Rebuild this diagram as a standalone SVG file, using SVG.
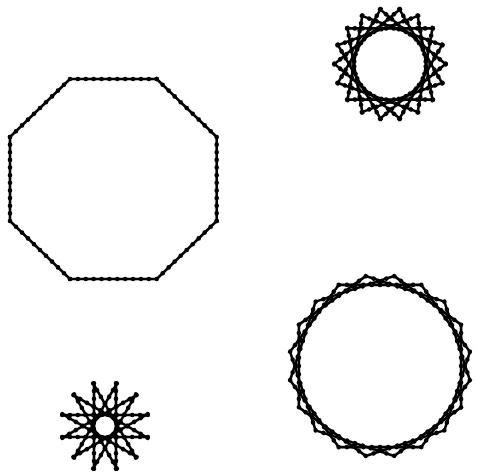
<svg xmlns="http://www.w3.org/2000/svg" xmlns:xlink="http://www.w3.org/1999/xlink" width="477" height="473" viewBox="0 0 477 473">
<style>
.ln{stroke:#000;stroke-width:2.6;fill:none;stroke-linecap:round;stroke-linejoin:round}
.bd{stroke:#000;stroke-width:4.6;fill:none;stroke-linecap:round;stroke-dasharray:0 1}
</style>
<defs>
<g id="c12"><line class="ln" x1="11" y1="-42.8" x2="11" y2="42.8"/><line class="bd" pathLength="11" x1="11" y1="-42.8" x2="11" y2="42.8"/></g>
<g id="c20"><line class="ln" x1="-41.3" y1="-81.1" x2="41.3" y2="-81.1"/><line class="bd" pathLength="10" x1="-41.3" y1="-81.1" x2="41.3" y2="-81.1"/></g>
<g id="c18"><line class="ln" x1="-42.9" y1="-35.6" x2="42.9" y2="-35.6"/><line class="bd" pathLength="11" x1="-42.9" y1="-35.6" x2="42.9" y2="-35.6"/></g>
</defs>
<rect width="477" height="473" fill="#fff"/>
<g id="octagon">
<polygon class="ln" points="70,79 156.7,79 216.7,137 216.7,221 156.7,279 70,279 10,221 10,137"/>
<line class="bd" pathLength="11" x1="70" y1="79" x2="156.7" y2="79"/>
<line class="bd" pathLength="10" x1="156.7" y1="79" x2="216.7" y2="137"/>
<line class="bd" pathLength="11" x1="216.7" y1="137" x2="216.7" y2="221"/>
<line class="bd" pathLength="10" x1="216.7" y1="221" x2="156.7" y2="279"/>
<line class="bd" pathLength="11" x1="156.7" y1="279" x2="70" y2="279"/>
<line class="bd" pathLength="10" x1="70" y1="279" x2="10" y2="221"/>
<line class="bd" pathLength="11" x1="10" y1="221" x2="10" y2="137"/>
<line class="bd" pathLength="10" x1="10" y1="137" x2="70" y2="79"/>
</g>
<g id="star18" transform="translate(390,64)">
<use xlink:href="#c18"/><use xlink:href="#c18" transform="rotate(20)"/><use xlink:href="#c18" transform="rotate(40)"/><use xlink:href="#c18" transform="rotate(60)"/><use xlink:href="#c18" transform="rotate(80)"/><use xlink:href="#c18" transform="rotate(100)"/><use xlink:href="#c18" transform="rotate(120)"/><use xlink:href="#c18" transform="rotate(140)"/><use xlink:href="#c18" transform="rotate(160)"/><use xlink:href="#c18" transform="rotate(180)"/><use xlink:href="#c18" transform="rotate(200)"/><use xlink:href="#c18" transform="rotate(220)"/><use xlink:href="#c18" transform="rotate(240)"/><use xlink:href="#c18" transform="rotate(260)"/><use xlink:href="#c18" transform="rotate(280)"/><use xlink:href="#c18" transform="rotate(300)"/><use xlink:href="#c18" transform="rotate(320)"/><use xlink:href="#c18" transform="rotate(340)"/>
</g>
<g id="star20" transform="translate(380,366)">
<use xlink:href="#c20"/><use xlink:href="#c20" transform="rotate(18)"/><use xlink:href="#c20" transform="rotate(36)"/><use xlink:href="#c20" transform="rotate(54)"/><use xlink:href="#c20" transform="rotate(72)"/><use xlink:href="#c20" transform="rotate(90)"/><use xlink:href="#c20" transform="rotate(108)"/><use xlink:href="#c20" transform="rotate(126)"/><use xlink:href="#c20" transform="rotate(144)"/><use xlink:href="#c20" transform="rotate(162)"/><use xlink:href="#c20" transform="rotate(180)"/><use xlink:href="#c20" transform="rotate(198)"/><use xlink:href="#c20" transform="rotate(216)"/><use xlink:href="#c20" transform="rotate(234)"/><use xlink:href="#c20" transform="rotate(252)"/><use xlink:href="#c20" transform="rotate(270)"/><use xlink:href="#c20" transform="rotate(288)"/><use xlink:href="#c20" transform="rotate(306)"/><use xlink:href="#c20" transform="rotate(324)"/><use xlink:href="#c20" transform="rotate(342)"/>
</g>
<g id="star12" transform="translate(105,426)">
<use xlink:href="#c12"/><use xlink:href="#c12" transform="rotate(30)"/><use xlink:href="#c12" transform="rotate(60)"/><use xlink:href="#c12" transform="rotate(90)"/><use xlink:href="#c12" transform="rotate(120)"/><use xlink:href="#c12" transform="rotate(150)"/><use xlink:href="#c12" transform="rotate(180)"/><use xlink:href="#c12" transform="rotate(210)"/><use xlink:href="#c12" transform="rotate(240)"/><use xlink:href="#c12" transform="rotate(270)"/><use xlink:href="#c12" transform="rotate(300)"/><use xlink:href="#c12" transform="rotate(330)"/>
</g>
</svg>
